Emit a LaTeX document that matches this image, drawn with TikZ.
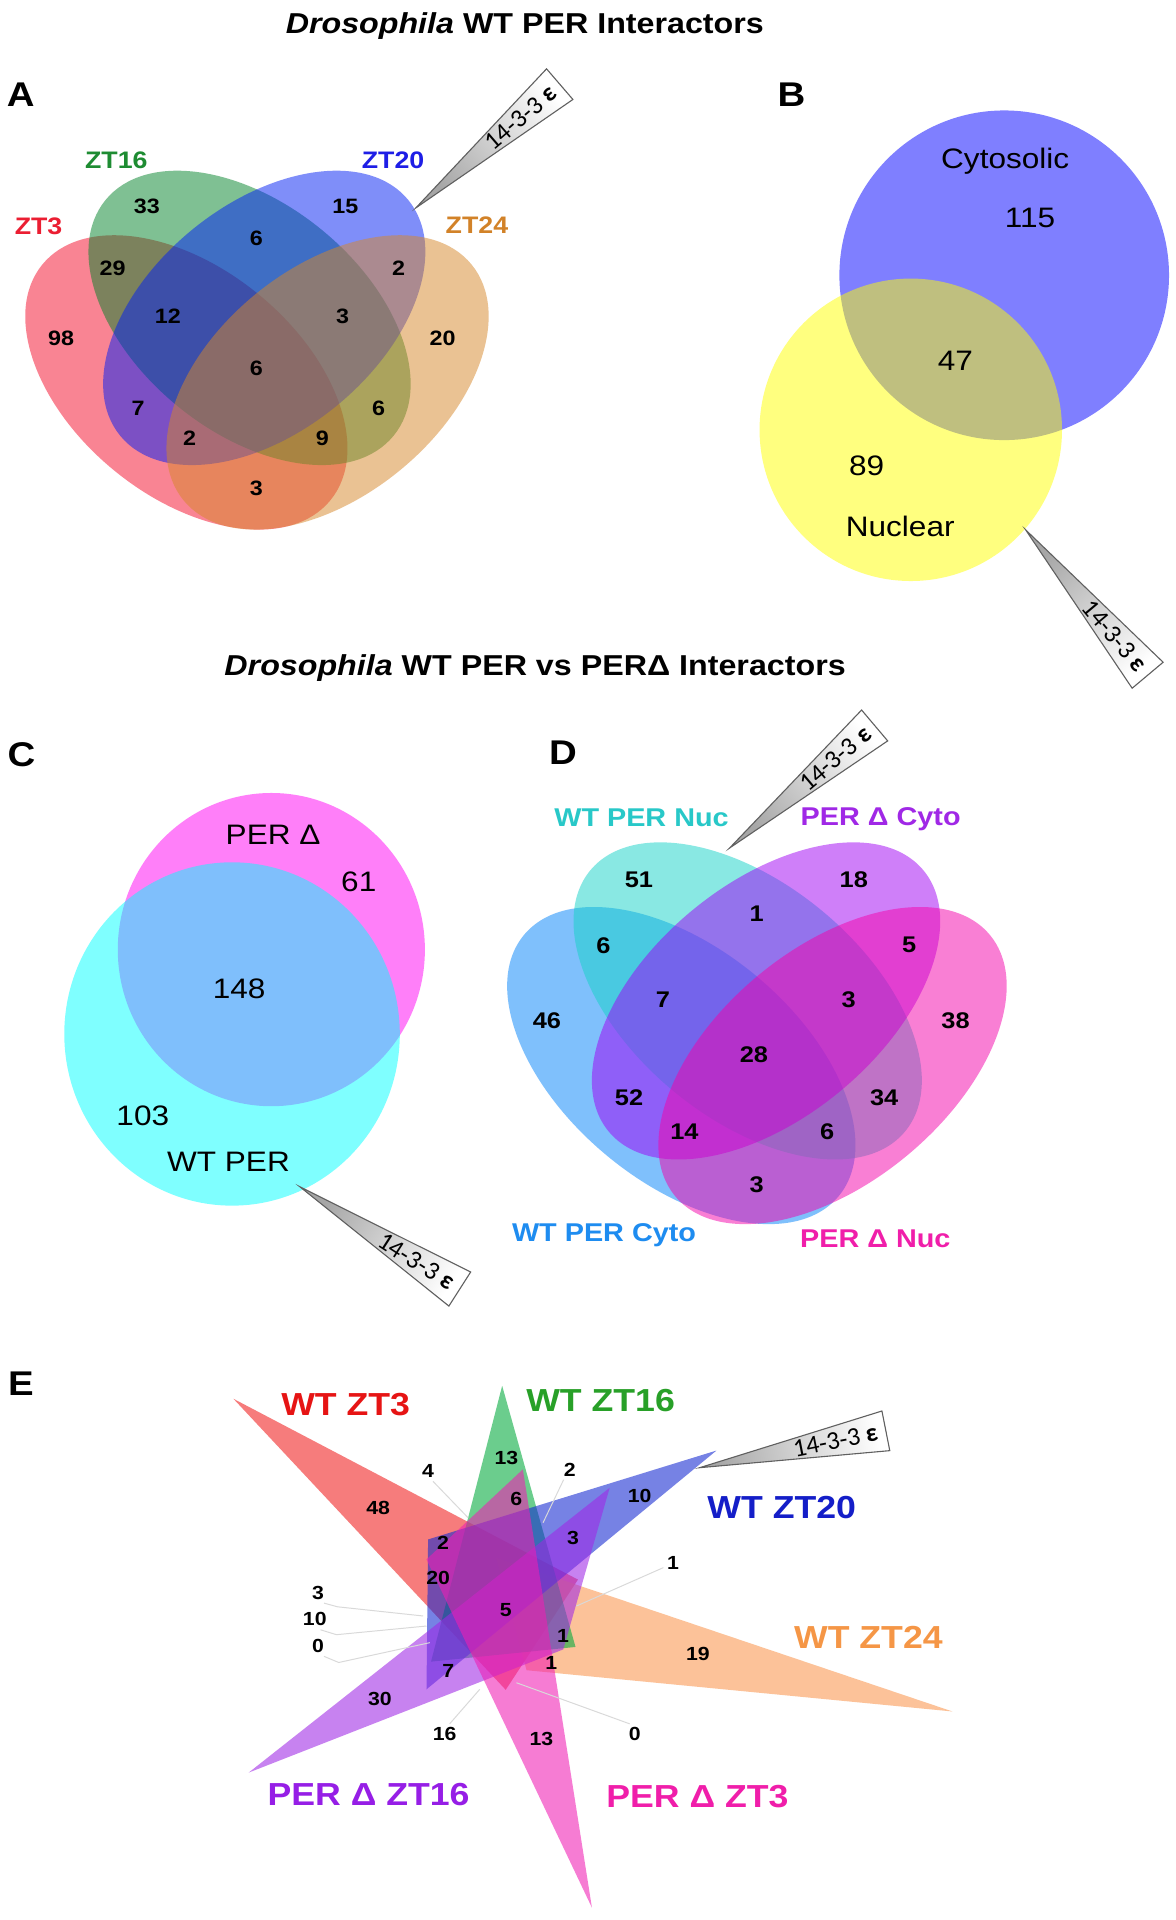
\documentclass[tikz,border=0pt]{standalone}
\usepackage{fontspec}
\setmainfont{Liberation Sans}
\newfontfamily\sw[FakeStretch=1.12]{Liberation Sans}
\newfontfamily\calfont{Carlito}
\usetikzlibrary{calc}
% panel A
\definecolor{aRed}{RGB}{245,10,40}
\definecolor{aGreen}{RGB}{0,130,40}
\definecolor{aBlue}{RGB}{0,30,245}
\definecolor{aOrange}{RGB}{215,135,40}
\definecolor{tZTthree}{RGB}{235,30,50}
\definecolor{tZTsixteen}{RGB}{30,140,50}
\definecolor{tZTtwenty}{RGB}{30,30,230}
\definecolor{tZTtwentyfour}{RGB}{210,130,40}
% panel B, C
\definecolor{bBlue}{RGB}{0,0,255}
\definecolor{bYellow}{RGB}{255,255,0}
\definecolor{cMag}{RGB}{255,0,245}
\definecolor{cCyan}{RGB}{0,255,255}
% panel D
\definecolor{dBlue}{RGB}{0,130,250}
\definecolor{dCyan}{RGB}{20,210,200}
\definecolor{dPurple}{RGB}{160,0,245}
\definecolor{dPink}{RGB}{245,0,170}
\definecolor{tNuc}{RGB}{40,200,200}
\definecolor{tCyto}{RGB}{160,40,230}
\definecolor{tWTCyto}{RGB}{30,140,240}
\definecolor{tPNuc}{RGB}{240,30,170}
% panel E
\definecolor{eRed}{RGB}{240,30,30}
\definecolor{eGreen}{RGB}{0,170,60}
\definecolor{eBlue}{RGB}{20,40,210}
\definecolor{eOrange}{RGB}{250,150,80}
\definecolor{ePurple}{RGB}{160,40,230}
\definecolor{ePink}{RGB}{240,30,180}
\definecolor{teRed}{RGB}{230,20,20}
\definecolor{teGreen}{RGB}{40,160,40}
\definecolor{teBlue}{RGB}{20,30,200}
\definecolor{teOrange}{RGB}{245,150,70}
\definecolor{tePurple}{RGB}{150,30,230}
\definecolor{tePink}{RGB}{240,30,170}

\newcommand{\calloutbox}[4]{%
  \coordinate (#1tip) at (#2,#3);
  \pgfmathsetmacro{\cangs}{#4-90}%
  \pgfmathsetmacro{\cangp}{#4+90}%
  \shadedraw[callshade, shading angle=\cangs] (#1tip)
    -- ($(#1tip)+(#4:155)+(\cangp:16.5)$)
    -- ($(#1tip)+(#4:155)+(\cangs:16.5)$) -- cycle;
  \node[calltext, rotate=#4] (#1) at ($(#1tip)+(#4:113)$) {14-3-3 \textbf{ε}};
}

\begin{document}
\begin{tikzpicture}[x=1pt,y=1pt,
  every node/.style={inner sep=0pt, outer sep=0pt},
  ttl/.style={font=\sw\bfseries\fontsize{23.5}{28}\selectfont, anchor=base},
  plet/.style={font=\sw\bfseries\fontsize{28}{32}\selectfont},
  anum/.style={font=\sw\bfseries\fontsize{17}{20}\selectfont},
  alab/.style={font=\sw\bfseries\fontsize{19.5}{22}\selectfont},
  bnum/.style={font=\sw\fontsize{23}{26}\selectfont},
  dnum/.style={font=\sw\bfseries\fontsize{18.5}{21}\selectfont},
  dlab/.style={font=\sw\bfseries\fontsize{21}{24}\selectfont},
  enum/.style={font=\sw\bfseries\fontsize{15.5}{18}\selectfont},
  elab/.style={font=\sw\bfseries\fontsize{26}{30}\selectfont},
  calltext/.style={font=\calfont\fontsize{21}{24}\selectfont},
  callshade/.style={top color=white, bottom color=gray!70, draw=gray!75!black, line width=0.9pt},
  leader/.style={draw=gray!30, line width=0.8pt},
  vfill/.style={fill opacity=0.5},
  efill/.style={fill opacity=0.58},
]
\useasboundingbox (0,0) rectangle (960,-1568);
\fill[white] (0,0) rectangle (960,-1568);

% ---------- titles ----------
\node[ttl] (t1) at (428.6,-27.5) {{\itshape Drosophila} WT PER Interactors};
\node[ttl] (t2) at (437,-552) {{\itshape Drosophila} WT PER vs PERΔ Interactors};

% ---------- panel A ----------
\node[plet] (pA) at (17,-77) {A};
\fill[aRed,vfill,rotate around={-39.3:(152.2,-312.3)}] (152.2,-312.3) ellipse [x radius=152,y radius=93];
\fill[aGreen,vfill,rotate around={-39.3:(203.8,-259.6)}] (203.8,-259.6) ellipse [x radius=152,y radius=93];
\fill[aBlue,vfill,rotate around={39.3:(215.8,-259.6)}] (215.8,-259.6) ellipse [x radius=152,y radius=93];
\fill[aOrange,vfill,rotate around={39.3:(267.5,-312.3)}] (267.5,-312.3) ellipse [x radius=152,y radius=93];
\node[alab,text=tZTsixteen] (lA16) at (95,-130.6) {ZT16};
\node[alab,text=tZTtwenty] (lA20) at (321,-130.6) {ZT20};
\node[alab,text=tZTthree] (lA3) at (31.5,-185) {ZT3};
\node[alab,text=tZTtwentyfour] (lA24) at (389.5,-183.7) {ZT24};
\node[anum] (a33) at (120,-168.7) {33};
\node[anum] (a15) at (282,-168.7) {15};
\node[anum] (a29) at (91.9,-219) {29};
\node[anum] (a6t) at (209.4,-194.6) {6};
\node[anum] (a2r) at (325.6,-219) {2};
\node[anum] (a12) at (137.1,-258.5) {12};
\node[anum] (a3r) at (279.8,-258.5) {3};
\node[anum] (a98) at (49.9,-276.2) {98};
\node[anum] (a20) at (361.5,-276.2) {20};
\node[anum] (a6c) at (209.4,-300.7) {6};
\node[anum] (a7) at (112.8,-333.4) {7};
\node[anum] (a6r) at (309.1,-333.4) {6};
\node[anum] (a2l) at (154.9,-357.8) {2};
\node[anum] (a9) at (263.3,-357.8) {9};
\node[anum] (a3b) at (209.4,-398.7) {3};
\calloutbox{coA}{339.6}{-169.8}{40.7}

% ---------- panel B ----------
\node[plet] (pB) at (646.4,-77.2) {B};
\fill[bBlue,vfill] (820.1,-224.8) circle [radius=134.6];
\fill[bYellow,vfill] (743.8,-351) circle [radius=123.5];
\node[bnum] (bCyt) at (820.9,-132) {Cytosolic};
\node[bnum] (b115) at (841.2,-178.4) {115};
\node[bnum] (b47) at (780.3,-294.5) {47};
\node[bnum] (b89) at (707.8,-380.8) {89};
\node[bnum] (bNuc) at (735.2,-430) {Nuclear};
\calloutbox{coB}{837.6}{-432.7}{-50}

% ---------- panel C ----------
\node[plet] (pC) at (17.5,-616) {C};
\fill[cMag,vfill] (221.6,-775.5) ellipse [x radius=125.4,y radius=127.9];
\fill[cCyan,vfill] (189.5,-844.4) ellipse [x radius=137,y radius=140.2];
\node[bnum] (cPD) at (223,-681.6) {PER Δ};
\node[bnum] (c61) at (293,-720.4) {61};
\node[bnum] (c148) at (195.3,-807.9) {148};
\node[bnum] (c103) at (116.6,-911.6) {103};
\node[bnum] (cWT) at (186.6,-948.8) {WT PER};
\calloutbox{coC}{244.9}{-969.2}{-32.6}

% ---------- panel D ----------
\node[plet] (pD) at (459.8,-615.1) {D};
\fill[dBlue,vfill,rotate around={-39.7:(556.4,-870.2)}] (556.4,-870.2) ellipse [x radius=167,y radius=95.4];
\fill[dCyan,vfill,rotate around={-39.7:(610.6,-817.4)}] (610.6,-817.4) ellipse [x radius=167,y radius=95.4];
\fill[dPurple,vfill,rotate around={39.7:(625.6,-817.4)}] (625.6,-817.4) ellipse [x radius=167,y radius=95.4];
\fill[dPink,vfill,rotate around={39.7:(679.9,-870.2)}] (679.9,-870.2) ellipse [x radius=167,y radius=95.4];
\node[dlab,text=tNuc] (lDN) at (523.9,-667.6) {WT PER Nuc};
\node[dlab,text=tCyto] (lDC) at (719.2,-669) {PER Δ Cyto};
\node[dlab,text=tWTCyto] (lDWC) at (493.3,-1008.6) {WT PER Cyto};
\node[dlab,text=tPNuc] (lDPN) at (714.8,-1011.6) {PER Δ Nuc};
\node[dnum] (d51) at (521.8,-718.6) {51};
\node[dnum] (d18) at (697.3,-718.6) {18};
\node[dnum] (d1) at (618,-746.3) {1};
\node[dnum] (d6l) at (492.7,-772.5) {6};
\node[dnum] (d5) at (742.5,-772) {5};
\node[dnum] (d7) at (541.4,-816.3) {7};
\node[dnum] (d3t) at (693,-816.3) {3};
\node[dnum] (d46) at (446.6,-833.8) {46};
\node[dnum] (d38) at (780.4,-833.8) {38};
\node[dnum] (d28) at (615.7,-861.4) {28};
\node[dnum] (d52) at (513.7,-896.4) {52};
\node[dnum] (d34) at (722.1,-896.4) {34};
\node[dnum] (d14) at (558.9,-924.1) {14};
\node[dnum] (d6r) at (675.5,-924.1) {6};
\node[dnum] (d3b) at (618,-967.8) {3};
\calloutbox{coD}{595.9}{-692.5}{40.2}

% ---------- panel E ----------
\node[plet] (pE) at (17,-1130) {E};
\fill[eRed,efill] (190.6,-1142.3) -- (472,-1290) -- (413,-1380) -- cycle;
\fill[eOrange,efill] (777.9,-1397.7) -- (405,-1272) -- (430,-1364) -- cycle;
\fill[eGreen,efill] (410.1,-1131.7) -- (470,-1345) -- (352,-1357) -- cycle;
\fill[eBlue,efill] (585.1,-1184.6) -- (349.6,-1257.2) -- (348.3,-1379.6) -- cycle;
\fill[ePurple,efill] (203.1,-1447.6) -- (497.9,-1215) -- (460,-1347) -- cycle;
\fill[ePink,efill] (483.4,-1557.9) -- (348.3,-1273.5) -- (427,-1200) -- cycle;

\node[elab,text=teRed] (lE3) at (282.3,-1146.8) {WT ZT3};
\node[elab,text=teGreen] (lE16) at (490.5,-1143.8) {WT ZT16};
\node[elab,text=teBlue] (lE20) at (638.4,-1231.4) {WT ZT20};
\node[elab,text=teOrange] (lE24) at (709.2,-1337.2) {WT ZT24};
\node[elab,text=tePurple] (lEP16) at (301,-1465.7) {PER Δ ZT16};
\node[elab,text=tePink] (lEP3) at (569.6,-1467.2) {PER Δ ZT3};

\node[enum] (e13g) at (413.6,-1190.5) {13};
\node[enum] (e6) at (421.7,-1224.5) {6};
\node[enum] (e48) at (308.8,-1231.3) {48};
\node[enum] (e10b) at (522.4,-1221.8) {10};
\node[enum] (e2c) at (361.9,-1259.9) {2};
\node[enum] (e3c) at (468,-1255.8) {3};
\node[enum] (e20) at (357.8,-1288.4) {20};
\node[enum] (e5) at (413,-1314.8) {5};
\node[enum] (e1a) at (459.8,-1336.1) {1};
\node[enum] (e19) at (570,-1351) {19};
\node[enum] (e1b) at (450.3,-1357.8) {1};
\node[enum] (e7) at (366,-1364.6) {7};
\node[enum] (e30) at (310.2,-1387.8) {30};
\node[enum] (e13p) at (442.1,-1420.4) {13};
% outside numbers with leader lines
\node[enum] (e4) at (349.6,-1201.4) {4};
\node[enum] (e2o) at (465.3,-1200) {2};
\node[enum] (e1o) at (549.6,-1276.2) {1};
\node[enum] (e3o) at (259.8,-1300.7) {3};
\node[enum] (e10o) at (257.1,-1322.5) {10};
\node[enum] (e0l) at (259.8,-1344.2) {0};
\node[enum] (e16) at (363.2,-1416.3) {16};
\node[enum] (e0r) at (518.3,-1416.3) {0};
\coordinate (k4) at (382.3,-1239.5);
\coordinate (k2) at (443.5,-1243.5);
\coordinate (k1) at (470.7,-1311.6);
\coordinate (k3) at (345.5,-1319.7);
\coordinate (k10) at (348.3,-1327.9);
\coordinate (k0l) at (351,-1341.5);
\coordinate (k16) at (391.8,-1379.6);
\coordinate (k0r) at (421.7,-1374.2);
\draw[leader] ($(e4.south)+(4,-3)$) -- (k4);
\draw[leader] ($(e2o.south)+(-5,-3)$) -- (k2);
\draw[leader] ($(e1o.west)+(-3,-4)$) -- (k1);
\draw[leader] ($(e3o.south east)+(0,-3)$) -- ++(11,-3) -- (k3);
\draw[leader] ($(e10o.south east)+(-5,-3)$) -- ++(13,-4) -- (k10);
\draw[leader] ($(e0l.south east)+(0,-3)$) -- ++(12,-5) -- (k0l);
\draw[leader] ($(e16.north)+(4,3)$) -- (k16);
\draw[leader] ($(e0r.north)+(-4,3)$) -- (k0r);
\calloutbox{coE}{571.4}{-1198.6}{11.2}
\end{tikzpicture}
\end{document}
